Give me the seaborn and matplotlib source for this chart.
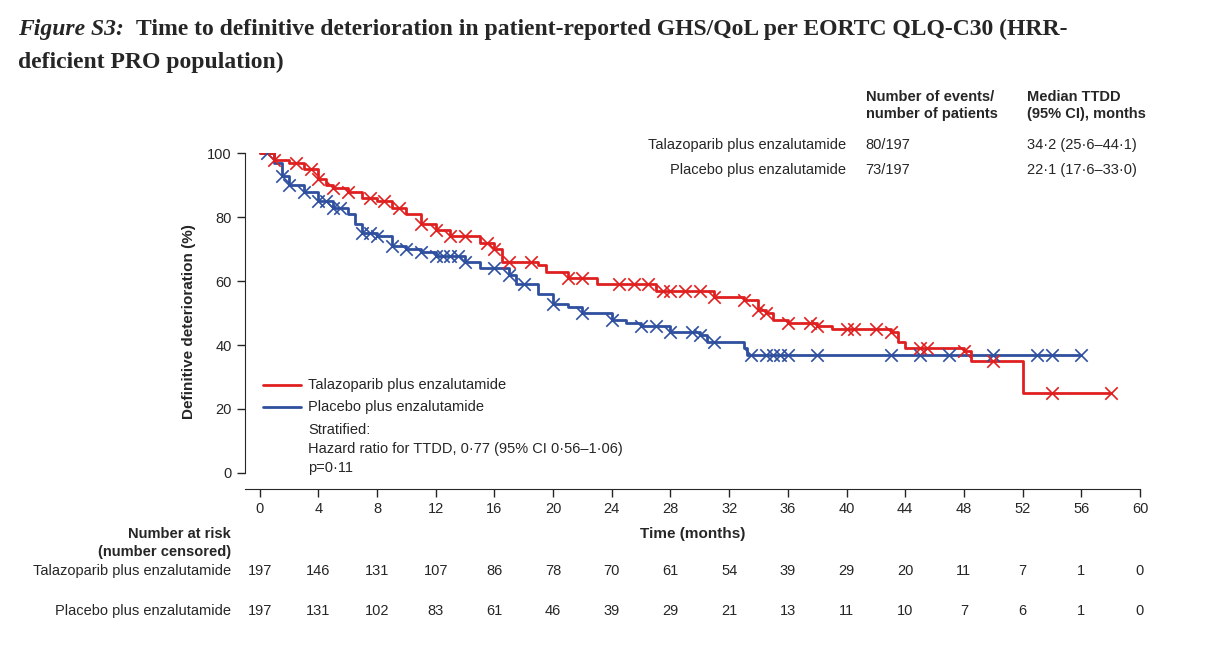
import matplotlib
matplotlib.use("Agg")
import matplotlib.pyplot as plt
import matplotlib.transforms as mtransforms
import seaborn as sns
import pandas as pd

sns.set_style("ticks")
plt.rcParams['font.family'] = ['Liberation Sans', 'DejaVu Sans']

red_t = [0, 1, 2, 3, 4, 4.5, 5, 6, 7, 8, 9, 10, 11, 12, 13, 15, 16, 16.5, 19, 19.5, 21, 23, 27, 31, 33, 34, 34.5, 35, 36, 38, 39, 43, 43.5, 44, 48, 48.5, 52, 58]
red_s = [100, 98, 97, 95, 92, 90, 89, 88, 86, 85, 83, 81, 78, 76, 74, 72, 70, 66, 65, 63, 61, 59, 57, 55, 54, 51, 50, 48, 47, 46, 45, 44, 41, 39, 38, 35, 25, 25]
red_cens = [1, 2.5, 3.5, 4, 5, 6, 7.5, 8.5, 9.5, 11, 12, 13, 14, 15.5, 16, 17, 18.5, 21, 22, 24.5, 25.5, 26.5, 27.5, 28, 29, 30, 31, 33, 34, 34.5, 36, 37.5, 38, 40, 40.5, 42, 43, 45, 45.5, 48, 50, 54, 58]

blue_t = [0, 1, 1.5, 2, 3, 4, 5, 6, 6.5, 7, 8, 9, 10, 11, 12, 14, 15, 17, 17.5, 19, 20, 21, 22, 24, 25, 26, 28, 30, 30.5, 33, 33.2, 56]
blue_s = [100, 97, 93, 90, 88, 85, 83, 81, 78, 75, 74, 71, 70, 69, 68, 66, 64, 62, 59, 56, 53, 52, 50, 48, 47, 46, 44, 43, 41, 39, 37, 37]
blue_cens = [0.5, 1.5, 2, 3, 4, 4.5, 5, 5.5, 7, 7.5, 8, 9, 10, 11, 12, 12.5, 13, 13.5, 14, 16, 17, 18, 20, 22, 24, 26, 27, 28, 29.5, 30, 31, 33.5, 34.5, 35, 35.5, 36, 38, 43, 45, 47, 50, 53, 54, 56]

risk_times = [0, 4, 8, 12, 16, 20, 24, 28, 32, 36, 40, 44, 48, 52, 56, 60]
risk_red = [197, 146, 131, 107, 86, 78, 70, 61, 54, 39, 29, 20, 11, 7, 1, 0]
risk_blue = [197, 131, 102, 83, 61, 46, 39, 29, 21, 13, 11, 10, 7, 6, 1, 0]

RED = "#e02020"
BLUE = "#2f4f9f"

def surv_at(ts, ss, t):
    v = ss[0]
    for a, b in zip(ts, ss):
        if a <= t:
            v = b
    return v

fig = plt.figure(figsize=(12.14, 6.58), dpi=100)
ax = fig.add_axes([0.2018, 0.257, 0.7372, 0.51])

dr = pd.DataFrame({"t": red_t, "s": red_s})
db = pd.DataFrame({"t": blue_t, "s": blue_s})
sns.lineplot(data=db, x="t", y="s", drawstyle="steps-post", color=BLUE, lw=2, ax=ax)
sns.lineplot(data=dr, x="t", y="s", drawstyle="steps-post", color=RED, lw=2, ax=ax)
cb = pd.DataFrame({"t": blue_cens, "s": [surv_at(blue_t, blue_s, t) for t in blue_cens]})
cr = pd.DataFrame({"t": red_cens, "s": [surv_at(red_t, red_s, t) for t in red_cens]})
sns.scatterplot(data=cb, x="t", y="s", marker="x", s=80, color=BLUE, linewidth=1.2, ax=ax, zorder=3)
sns.scatterplot(data=cr, x="t", y="s", marker="x", s=80, color=RED, linewidth=1.2, ax=ax, zorder=3)

ax.set_xlim(-1, 60)
ax.set_ylim(-5, 100)
ax.spines["top"].set_visible(False)
ax.spines["right"].set_visible(False)
ax.spines["left"].set_bounds(0, 100)
ax.spines["bottom"].set_bounds(-1, 60)
ax.set_xticks(risk_times)
ax.set_yticks([0, 20, 40, 60, 80, 100])
ax.tick_params(labelsize=10.5, length=6, width=1)
ax.set_xlabel("Time (months)", fontsize=11, fontweight="bold", labelpad=8)
ax.set_ylabel("Definitive deterioration (%)", fontsize=11, fontweight="bold", labelpad=8)

ax.plot([0.2, 2.8], [27.5, 27.5], color=RED, lw=2)
ax.plot([0.2, 2.8], [20.5, 20.5], color=BLUE, lw=2)
ax.text(3.3, 27.5, "Talazoparib plus enzalutamide", va="center", fontsize=10.5)
ax.text(3.3, 20.5, "Placebo plus enzalutamide", va="center", fontsize=10.5)
ax.text(3.3, 13.5, "Stratified:", va="center", fontsize=10.5)
ax.text(3.3, 7.5, "Hazard ratio for TTDD, 0·77 (95% CI 0·56–1·06)", va="center", fontsize=10.5)
ax.text(3.3, 1.5, "p=0·11", va="center", fontsize=10.5)

# table upper right
fig.text(0.713, 0.82, "Number of events/\nnumber of patients", fontsize=10.5, fontweight="bold", linespacing=1.35)
fig.text(0.846, 0.82, "Median TTDD\n(95% CI), months", fontsize=10.5, fontweight="bold", linespacing=1.35)
fig.text(0.697, 0.78, "Talazoparib plus enzalutamide", fontsize=10.5, ha="right", va="center")
fig.text(0.697, 0.742, "Placebo plus enzalutamide", fontsize=10.5, ha="right", va="center")
fig.text(0.713, 0.78, "80/197", fontsize=10.5, va="center")
fig.text(0.713, 0.742, "73/197", fontsize=10.5, va="center")
fig.text(0.846, 0.78, "34·2 (25·6–44·1)", fontsize=10.5, va="center")
fig.text(0.846, 0.742, "22·1 (17·6–33·0)", fontsize=10.5, va="center")

# number at risk
tr = mtransforms.blended_transform_factory(ax.transData, fig.transFigure)
fig.text(0.19, 0.175, "Number at risk\n(number censored)", fontsize=10.5, fontweight="bold",
         ha="right", va="center", linespacing=1.35)
fig.text(0.19, 0.132, "Talazoparib plus enzalutamide", fontsize=10.5, ha="right", va="center")
fig.text(0.19, 0.072, "Placebo plus enzalutamide", fontsize=10.5, ha="right", va="center")
for t, a, b in zip(risk_times, risk_red, risk_blue):
    ax.text(t, 0.132, str(a), transform=tr, ha="center", va="center", fontsize=10.5)
    ax.text(t, 0.072, str(b), transform=tr, ha="center", va="center", fontsize=10.5)

# title
fig.text(0.015, 0.955, "Figure S3:", fontsize=17, fontstyle="italic", fontweight="bold",
         family="Liberation Serif", va="center")
fig.text(0.112, 0.955, "Time to definitive deterioration in patient-reported GHS/QoL per EORTC QLQ-C30 (HRR-",
         fontsize=17, fontweight="bold", family="Liberation Serif", va="center")
fig.text(0.015, 0.905, "deficient PRO population)", fontsize=17, fontweight="bold",
         family="Liberation Serif", va="center")

fig.savefig("out.png", dpi=100)
